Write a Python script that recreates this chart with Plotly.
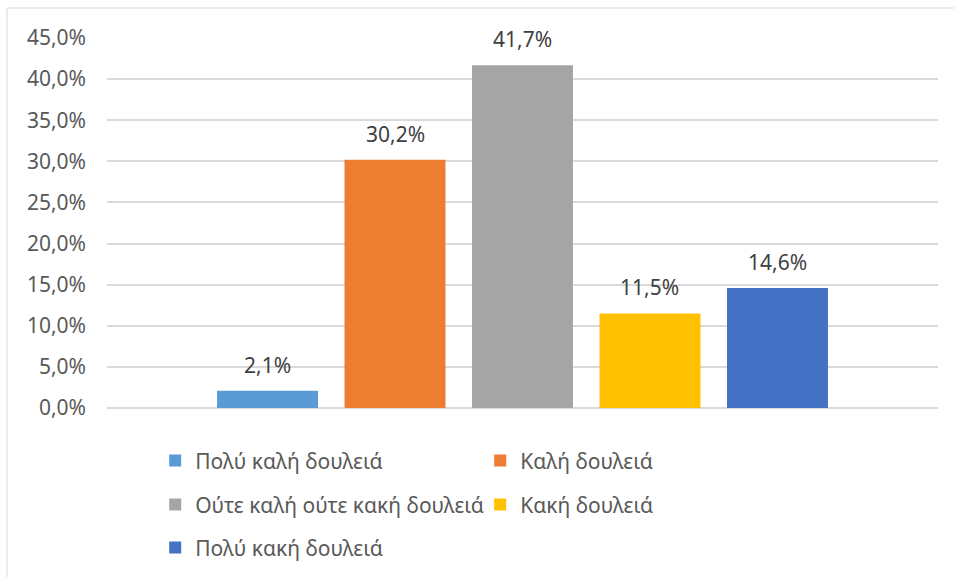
import plotly.graph_objects as go

# Survey answers and their shares (%)
categories = ["Πολύ καλή δουλειά", "Καλή δουλειά", "Ούτε καλή ούτε κακή δουλειά",
              "Κακή δουλειά", "Πολύ κακή δουλειά"]
values = [2.1, 30.2, 41.7, 11.5, 14.6]
colors = ["#5B9BD5", "#ED7D31", "#A5A5A5", "#FFC000", "#4472C4"]
tick_vals = [0, 5, 10, 15, 20, 25, 30, 35, 40, 45]
tick_text = [f"{v:.1f}%".replace(".", ",") for v in tick_vals]

FONT = "Noto Sans"
FSIZE = 21
legend_rows = ["legend", "legend", "legend2", "legend2", "legend3"]

fig = go.Figure()
for i, (name, val, col) in enumerate(zip(categories, values, colors)):
    fig.add_trace(go.Bar(
        x=[i], y=[val], name=name, marker=dict(color=col, line=dict(width=0)),
        width=0.792, legend=legend_rows[i], hoverinfo="skip",
    ))
    fig.add_annotation(
        x=i, y=val, text=f"{val:.1f}%".replace(".", ","), showarrow=False,
        yanchor="bottom", yshift=10, font=dict(family=FONT, size=FSIZE, color="#404040"),
    )

# outer chart frame
fig.add_shape(type="rect", xref="paper", yref="paper", x0=-0.1203, x1=1.2,
              y0=-0.6, y1=1.0811, line=dict(color="#D9D9D9", width=1), layer="below")

legend_common = dict(orientation="h", xanchor="left", yanchor="middle", x=0.058,
                     entrywidth=280, entrywidthmode="pixels",
                     font=dict(family=FONT, size=FSIZE, color="#595959"),
                     bgcolor="rgba(0,0,0,0)", itemclick=False, itemdoubleclick=False)

fig.update_layout(
    width=954, height=577,
    margin=dict(l=107, r=16, t=38, b=169, autoexpand=False),
    paper_bgcolor="white", plot_bgcolor="white",
    barmode="overlay",
    showlegend=True,
    legend=dict(legend_common, y=-0.143),
    legend2=dict(legend_common, y=-0.262),
    legend3=dict(legend_common, y=-0.378),
    xaxis=dict(range=[-1.259, 5.259], showticklabels=False, showgrid=False,
               zeroline=False, showline=False, fixedrange=True),
    yaxis=dict(range=[0, 45], tickvals=tick_vals, ticktext=tick_text,
               showgrid=True, gridcolor="#D9D9D9", gridwidth=1.5,
               zeroline=True, zerolinecolor="#D9D9D9", zerolinewidth=1.5,
               showline=False, ticks="", ticklabelstandoff=20,
               tickfont=dict(family=FONT, size=FSIZE, color="#595959"), fixedrange=True),
)

fig.write_html("out.html")
